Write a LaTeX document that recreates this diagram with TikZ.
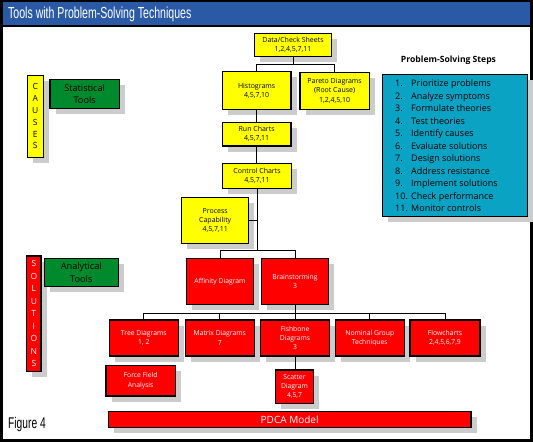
\documentclass[tikz,border=0pt]{standalone}
\usepackage{fontspec}
\setmainfont{Open Sans}
\newfontfamily\condfont[FakeStretch=0.66]{Liberation Sans}
\usetikzlibrary{shadows}
\definecolor{tbar}{RGB}{42,90,166}
\definecolor{ybox}{RGB}{255,255,0}
\definecolor{rbox}{RGB}{255,0,0}
\definecolor{gbox}{RGB}{0,138,46}
\definecolor{tbox}{RGB}{10,163,196}
\newcommand\mkbox[7]{\node[#2,minimum width={#5pt-#3pt},minimum height={#6pt-#4pt}] (#1) at ({(#3+#5)/2},{(#4+#6)/2}) {#7};}
\begin{document}
\begin{tikzpicture}[x=1pt,y=-1pt,
  boxbase/.style={draw=black,line width=1.3pt,inner sep=1pt,outer sep=0pt,align=center,
    drop shadow={shadow xshift=5.5pt,shadow yshift=-5.5pt,fill=black!20,opacity=1}},
  yb/.style={boxbase,fill=ybox,text=black,font=\fontsize{7}{9.2}\selectfont},
  rb/.style={boxbase,fill=rbox,text=white,font=\fontsize{6.8}{9.2}\selectfont},
  gb/.style={boxbase,fill=gbox,text=black,font=\fontsize{9.2}{12.5}\selectfont},
  tb/.style={boxbase,fill=tbox},
  conn/.style={draw=black,line width=0.9pt}]
\useasboundingbox (0,0) rectangle (533,442);
% frame
\fill[black] (0,0) rectangle (533,442);
\fill[tbar] (3,2) rectangle (530,25);
\fill[white] (3,27) rectangle (530,439);
\node[anchor=west,inner sep=0,text=white,font=\condfont\fontsize{16}{18}\selectfont] (title) at (8,14) {Tools with Problem-Solving Techniques};
\node[anchor=west,inner sep=0,text=black,font=\condfont\fontsize{15.5}{18}\selectfont] (fig) at (8,424) {Figure 4};
% cause side
\mkbox{data}{yb}{254.3}{33.3}{331.7}{56.7}{Data/Check Sheets\\1,2,4,5,7,11}
\mkbox{hist}{yb}{222.3}{71.7}{291}{109.3}{Histograms\\4,5,7,10}
\mkbox{pareto}{yb}{300}{72.3}{369.3}{109.3}{Pareto Diagrams\\(Root Cause)\\1,2,4,5,10}
\mkbox{run}{yb}{222.3}{122.3}{291}{146}{Run Charts\\4,5,7,11}
\mkbox{control}{yb}{222.3}{163.3}{291.7}{188.3}{Control Charts\\4,5,7,11}
\mkbox{process}{yb}{181.7}{197.3}{248.7}{243.3}{Process\\Capability\\4,5,7,11}
% solution side
\mkbox{affinity}{rb}{186.7}{258.3}{253.3}{304.3}{Affinity Diagram}
\mkbox{brain}{rb}{261.5}{258.3}{328.5}{304.3}{Brainstorming\\3}
\mkbox{tree}{rb}{109.3}{320}{178.3}{356}{Tree Diagrams\\1, 2}
\mkbox{matrix}{rb}{185.3}{320}{254.3}{356}{Matrix Diagrams\\7}
\mkbox{fish}{rb}{260.5}{320}{329.5}{356}{Fishbone\\Diagrams\\3}
\mkbox{nominal}{rb}{335.3}{320}{404.3}{356}{Nominal Group\\Techniques}
\mkbox{flow}{rb}{410}{320}{480}{356}{Flowcharts\\2,4,5,6,7,9}
\mkbox{force}{rb}{106}{365.3}{175.3}{396}{Force Field\\Analysis}
\mkbox{scatter}{rb}{275.7}{370}{313.3}{403.3}{Scatter\\Diagram\\4,5,7}
\mkbox{pdca}{rb,font=\fontsize{10}{12}\selectfont}{108.3}{411.7}{471}{427.3}{PDCA Model}
% side labels
\mkbox{causes}{yb,font=\fontsize{8.5}{11.8}\selectfont}{27.3}{75.3}{43.3}{157.3}{C\\A\\U\\S\\E\\S}
\mkbox{stat}{gb}{50}{79.3}{119.3}{108.3}{Statistical\\Tools}
\mkbox{solutions}{rb,font=\fontsize{8.5}{12.5}\selectfont}{26.7}{256}{41}{371.7}{S\\O\\L\\U\\T\\I\\O\\N\\S}
\mkbox{anal}{gb}{44.3}{258.3}{118.3}{286.7}{Analytical\\Tools}
% steps
\node[inner sep=0,font=\bfseries\fontsize{8.6}{10}\selectfont] (stepstitle) at (448.5,60) {Problem-Solving Steps};
\mkbox{steps}{tb}{382.7}{74.3}{527.3}{216.7}{}
\node[anchor=west,inner sep=0,align=left,font=\fontsize{9}{12.5}\selectfont] (list) at ([xshift=12.3pt,yshift=-0.5pt]steps.west) {%
\makebox[16pt][l]{1.}Prioritize problems\\
\makebox[16pt][l]{2.}Analyze symptoms\\
\makebox[16pt][l]{3.}Formulate theories\\
\makebox[16pt][l]{4.}Test theories\\
\makebox[16pt][l]{5.}Identify causes\\
\makebox[16pt][l]{6.}Evaluate solutions\\
\makebox[16pt][l]{7.}Design solutions\\
\makebox[16pt][l]{8.}Address resistance\\
\makebox[16pt][l]{9.}Implement solutions\\
\makebox[16pt][l]{10.}Check performance\\
\makebox[16pt][l]{11.}Monitor controls};
% connectors
\coordinate (j1) at (data.south |- 0,64.3);
\draw[conn] (data.south) -- (j1);
\draw[conn] (hist.north) |- (j1) -| (pareto.north);
\draw[conn] (hist.south) -- (hist.south |- run.north);
\draw[conn] (run.south) -- (run.south |- control.north);
\coordinate (j2) at (control.south |- 0,250.7);
\draw[conn] (control.south) -- (j2);
\draw[conn] (process.east) -- (process.east -| control.south);
\draw[conn] (affinity.north) |- (j2) -| (brain.north);
\coordinate (j3) at (brain.south |- 0,313.3);
\draw[conn] (brain.south) -- (j3);
\draw[conn] (tree.north) |- (j3) -| (flow.north);
\draw[conn] (matrix.north) -- (matrix.north |- j3);
\draw[conn] (fish.north) -- (fish.north |- j3);
\draw[conn] (nominal.north) -- (nominal.north |- j3);
\draw[conn] (fish.south) -- (fish.south |- scatter.north);
\end{tikzpicture}
\end{document}
